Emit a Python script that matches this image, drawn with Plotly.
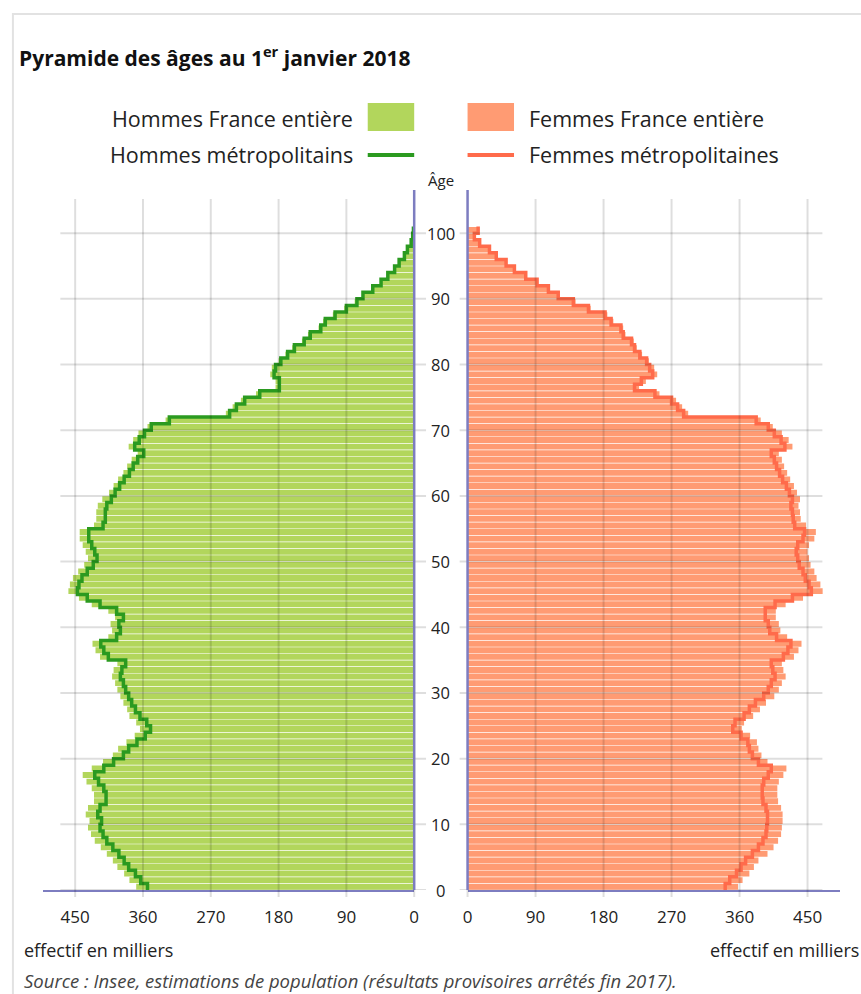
import plotly.graph_objects as go

# ---------------- data (thousands) ----------------
ages = list(range(0, 101))

hommes_metro = [354, 363, 370, 379, 385, 392, 400, 408, 413, 417,
                415, 420, 417, 409, 409, 412, 419, 424, 412, 399,
                386, 379, 368, 357, 350, 355, 364, 370, 375, 379,
                383, 386, 390, 388, 383, 406, 412, 416, 395, 390,
                392, 386, 395, 417, 434, 447, 445, 441, 434, 426,
                421, 424, 428, 432, 432, 413, 410, 410, 408, 402,
                397, 391, 385, 378, 373, 367, 359, 371, 365, 358,
                349, 325, 245, 236, 225, 205, 179, 179, 186, 184,
                177, 168, 159, 146, 138, 124, 118, 105, 90, 76,
                68, 55, 44, 35, 26, 20, 13, 9, 4, 2, 1]

hommes_france = [369, 378, 385, 394, 400, 408, 416, 424, 429, 433,
                 431, 436, 433, 425, 425, 428, 435, 440, 428, 413,
                 400, 393, 382, 371, 364, 369, 378, 381, 386, 390,
                 394, 397, 401, 399, 394, 417, 423, 427, 406, 401,
                 403, 397, 406, 428, 445, 459, 457, 453, 446, 438,
                 433, 436, 440, 444, 444, 425, 422, 422, 420, 414,
                 405, 399, 393, 386, 381, 375, 367, 379, 373, 366,
                 354, 330, 250, 241, 230, 210, 184, 184, 191, 189,
                 180, 171, 162, 149, 141, 127, 121, 108, 93, 79,
                 69, 56, 45, 36, 27, 21, 14, 10, 5, 3, 1]

femmes_metro = [341, 347, 356, 362, 368, 377, 385, 391, 395, 396,
                397, 397, 395, 391, 390, 390, 392, 398, 402, 385,
                377, 373, 371, 362, 351, 354, 366, 373, 381, 392,
                398, 402, 407, 404, 402, 418, 424, 428, 409, 400,
                398, 394, 394, 407, 430, 455, 452, 447, 444, 439,
                437, 435, 437, 444, 446, 433, 431, 430, 428, 430,
                426, 422, 417, 413, 409, 406, 402, 420, 415, 406,
                398, 382, 286, 278, 270, 248, 221, 230, 245, 241,
                237, 228, 221, 217, 206, 203, 190, 182, 160, 140,
                120, 107, 92, 77, 62, 51, 38, 29, 16, 9, 14]

femmes_france = [358, 364, 373, 379, 385, 397, 405, 411, 415, 416,
                 417, 417, 415, 411, 410, 410, 412, 418, 422, 397,
                 389, 385, 383, 374, 363, 366, 378, 387, 395, 406,
                 412, 416, 421, 418, 416, 432, 438, 442, 423, 414,
                 412, 408, 408, 421, 444, 470, 467, 462, 459, 454,
                 452, 450, 452, 459, 461, 448, 441, 440, 438, 440,
                 436, 432, 427, 423, 419, 416, 412, 430, 425, 416,
                 404, 388, 292, 284, 276, 254, 227, 236, 251, 247,
                 240, 231, 224, 220, 209, 206, 193, 185, 163, 143,
                 121, 108, 93, 78, 63, 52, 39, 30, 17, 10, 15]

x_ticks = [0, 90, 180, 270, 360, 450]
age_ticks = [0, 10, 20, 30, 40, 50, 60, 70, 80, 90, 100]

title_text = "Pyramide des âges au 1<sup>er</sup> janvier 2018"
leg_h_fr = "Hommes France entière"
leg_h_me = "Hommes métropolitains"
leg_f_fr = "Femmes France entière"
leg_f_me = "Femmes métropolitaines"
axis_unit = "effectif en milliers"
source_text = "Source : Insee, estimations de population (résultats provisoires arrêtés fin 2017)."

# ---------------- styles ----------------
W, H = 861, 994
FONT = "Open Sans"
GREEN_BAR = "#b2d65c"
GREEN_LINE = "#2b9a20"
ORANGE_BAR = "#ff9b73"
ORANGE_LINE = "#ff6b4b"
AXIS_COL = "#7d7dc0"
GRID_COL = "rgba(0,0,0,0.13)"
TXT = "#222222"


def X(px):
    return px / W


def Y(py):
    return 1 - py / H


fig = go.Figure()

# step-line points: value of each age held over [age, age+1]
step_y = ages + [ages[-1] + 1]

fig.add_trace(go.Bar(y=ages, x=hommes_france, orientation="h", width=0.9, offset=0.05,
                     marker=dict(color=GREEN_BAR, line=dict(width=0)),
                     xaxis="x", yaxis="y", name=leg_h_fr, showlegend=False))
fig.add_trace(go.Scatter(y=step_y, x=hommes_metro + [hommes_metro[-1]], mode="lines",
                         line=dict(color=GREEN_LINE, width=3.5, shape="vh"),
                         xaxis="x", yaxis="y", name=leg_h_me, showlegend=False))
fig.add_trace(go.Bar(y=ages, x=femmes_france, orientation="h", width=0.9, offset=0.05,
                     marker=dict(color=ORANGE_BAR, line=dict(width=0)),
                     xaxis="x2", yaxis="y2", name=leg_f_fr, showlegend=False))
fig.add_trace(go.Scatter(y=step_y, x=femmes_metro + [femmes_metro[-1]], mode="lines",
                         line=dict(color=ORANGE_LINE, width=3.5, shape="vh"),
                         xaxis="x2", yaxis="y2", name=leg_f_me, showlegend=False))

y_dom = [Y(890), Y(199)]
y_rng = [0, 105.2]

xcommon = dict(tickvals=x_ticks, ticktext=[str(v) for v in x_ticks], ticks="", showgrid=False,
               zeroline=False, showline=True, linecolor=AXIS_COL, linewidth=2,
               tickfont=dict(family=FONT, size=17, color=TXT), ticklabelstandoff=11,
               fixedrange=True)
ycommon = dict(range=y_rng, domain=y_dom, visible=False, showgrid=False, zeroline=False,
               fixedrange=True)

shapes = []
annotations = []

# horizontal gridlines
for t in age_ticks:
    shapes.append(dict(type="line", xref="paper", yref="y", x0=X(56), x1=X(426), y0=t, y1=t,
                       line=dict(color=GRID_COL, width=2), layer="below" if t == 0 else "above"))
    shapes.append(dict(type="line", xref="paper", yref="y2", x0=X(460), x1=X(827), y0=t, y1=t,
                       line=dict(color=GRID_COL, width=2), layer="below" if t == 0 else "above"))
    annotations.append(dict(xref="paper", yref="y", x=X(441), y=t, text=str(t), showarrow=False,
                            xanchor="center", yanchor="middle",
                            font=dict(family=FONT, size=16.5, color=TXT)))

# vertical gridlines (extend a little below the axis as ticks)
for v in x_ticks[1:]:
    shapes.append(dict(type="line", xref="x", yref="paper", x0=v, x1=v, y0=Y(897), y1=Y(199),
                       line=dict(color=GRID_COL, width=2), layer="above"))
    shapes.append(dict(type="line", xref="x2", yref="paper", x0=v, x1=v, y0=Y(897), y1=Y(199),
                       line=dict(color=GRID_COL, width=2), layer="above"))
for px in (414, 468):
    shapes.append(dict(type="line", xref="paper", yref="paper", x0=X(px), x1=X(px), y0=Y(897), y1=Y(890),
                       line=dict(color=GRID_COL, width=2)))
    # central axis lines
    shapes.append(dict(type="line", xref="paper", yref="paper", x0=X(px), x1=X(px), y0=Y(890), y1=Y(190),
                       line=dict(color=AXIS_COL, width=2.5), layer="above"))

# frame
shapes.append(dict(type="rect", xref="paper", yref="paper", x0=X(8), x1=X(870), y0=Y(1010), y1=Y(14),
                   line=dict(color="#e2e2e2", width=2), layer="below"))

# legend
shapes.append(dict(type="rect", xref="paper", yref="paper", x0=X(367), x1=X(414), y0=Y(131), y1=Y(103),
                   fillcolor=GREEN_BAR, line=dict(width=0)))
shapes.append(dict(type="rect", xref="paper", yref="paper", x0=X(468), x1=X(515), y0=Y(131), y1=Y(103),
                   fillcolor=ORANGE_BAR, line=dict(width=0)))
shapes.append(dict(type="line", xref="paper", yref="paper", x0=X(367), x1=X(414), y0=Y(155), y1=Y(155),
                   line=dict(color=GREEN_LINE, width=4)))
shapes.append(dict(type="line", xref="paper", yref="paper", x0=X(468), x1=X(515), y0=Y(155), y1=Y(155),
                   line=dict(color=ORANGE_LINE, width=4)))

legfont = dict(family=FONT, size=21.5, color=TXT)
annotations += [
    dict(xref="paper", yref="paper", x=X(354), y=Y(118), text=leg_h_fr, showarrow=False,
         xanchor="right", yanchor="middle", font=legfont),
    dict(xref="paper", yref="paper", x=X(354), y=Y(155), text=leg_h_me, showarrow=False,
         xanchor="right", yanchor="middle", font=legfont),
    dict(xref="paper", yref="paper", x=X(528), y=Y(118), text=leg_f_fr, showarrow=False,
         xanchor="left", yanchor="middle", font=legfont),
    dict(xref="paper", yref="paper", x=X(528), y=Y(155), text=leg_f_me, showarrow=False,
         xanchor="left", yanchor="middle", font=legfont),
    dict(xref="paper", yref="paper", x=X(441), y=Y(180), text="Âge", showarrow=False,
         xanchor="center", yanchor="middle", font=dict(family=FONT, size=15, color=TXT)),
    dict(xref="paper", yref="paper", x=X(12), y=Y(57), text="<b>" + title_text + "</b>", showarrow=False,
         xanchor="left", yanchor="middle", font=dict(family=FONT, size=21, color="#111111")),
    dict(xref="paper", yref="paper", x=X(17), y=Y(950), text=axis_unit, showarrow=False,
         xanchor="left", yanchor="middle", font=dict(family=FONT, size=18, color=TXT)),
    dict(xref="paper", yref="paper", x=X(866), y=Y(950), text=axis_unit, showarrow=False,
         xanchor="right", yanchor="middle", font=dict(family=FONT, size=18, color=TXT)),
    dict(xref="paper", yref="paper", x=X(17), y=Y(980), text="<i>" + source_text + "</i>", showarrow=False,
         xanchor="left", yanchor="middle", font=dict(family=FONT, size=18.5, color="#444444")),
]

fig.update_layout(
    width=W, height=H, autosize=False,
    margin=dict(l=0, r=0, t=0, b=0),
    paper_bgcolor="white", plot_bgcolor="rgba(0,0,0,0)",
    bargap=0.1,
    xaxis=dict(domain=[X(38), X(414)], range=[493.3, 0], anchor="y", **xcommon),
    xaxis2=dict(domain=[X(468), X(845)], range=[0, 493.2], anchor="y2", **xcommon),
    yaxis=dict(anchor="x", **ycommon),
    yaxis2=dict(anchor="x2", **ycommon),
    shapes=shapes,
    annotations=annotations,
    showlegend=False,
)

fig.write_html("out.html", config={"displayModeBar": False},
               post_script="document.body.style.margin='0';document.body.style.overflow='hidden';")
